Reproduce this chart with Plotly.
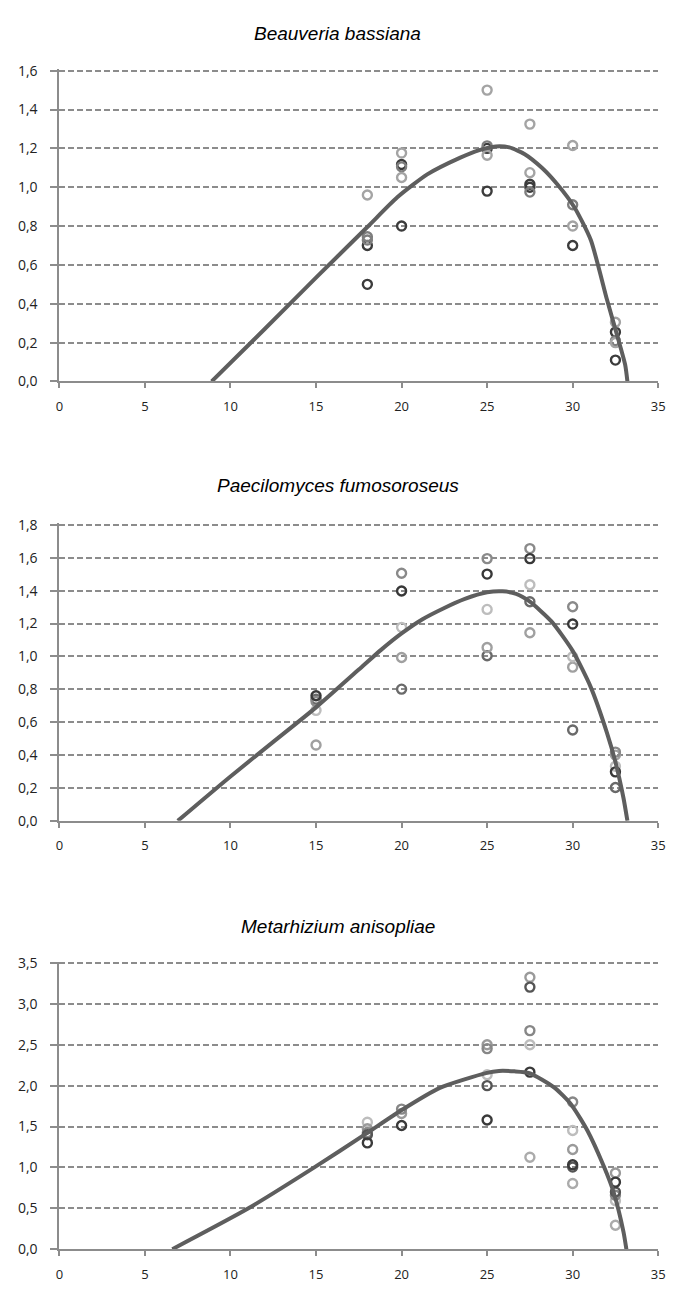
import plotly.graph_objects as go

# ---------------- data ----------------
titles = ["Beauveria bassiana", "Paecilomyces fumosoroseus", "Metarhizium anisopliae"]
y_max = [1.6, 1.8, 3.5]
y_step = [0.2, 0.2, 0.5]
x_ticks = [0, 5, 10, 15, 20, 25, 30, 35]

# Panel 1: Beauveria bassiana
bb_dark_x = [18, 18, 20, 20, 25, 25, 27.5, 27.5, 30, 32.5, 32.5]
bb_dark_y = [0.70, 0.50, 1.117, 0.80, 1.20, 0.98, 1.015, 1.00, 0.70, 0.254, 0.11]
bb_mid_x = [18, 18, 20, 25, 27.5, 30, 32.5]
bb_mid_y = [0.745, 0.728, 1.105, 1.213, 0.975, 0.91, 0.21]
bb_light_x = [18, 20, 20, 25, 25, 27.5, 27.5, 30, 30, 32.5, 32.5]
bb_light_y = [0.96, 1.176, 1.05, 1.50, 1.165, 1.325, 1.075, 1.215, 0.80, 0.305, 0.20]
bb_curve_x = [8.9, 12.0, 15.0, 18.0, 19.75, 21.5, 23.4, 24.5, 25.5, 26.3, 27.2, 28.2, 29.1, 30.1, 31.06, 32.0, 32.6, 33.07, 33.2]
bb_curve_y = [0.0, 0.27, 0.535, 0.795, 0.948, 1.066, 1.151, 1.19, 1.21, 1.205, 1.17, 1.10, 1.015, 0.897, 0.728, 0.423, 0.237, 0.085, 0.0]

# Panel 2: Paecilomyces fumosoroseus
pf_s1_x = [15, 20, 25, 27.5, 30, 32.5]
pf_s1_y = [0.761, 1.398, 1.501, 1.595, 1.197, 0.298]
pf_s2_x = [15, 20, 25, 27.5, 30, 32.5]
pf_s2_y = [0.726, 1.506, 1.595, 1.656, 1.302, 0.418]
pf_s3_x = [15, 20, 25, 27.5, 30, 32.5]
pf_s3_y = [0.672, 1.177, 1.286, 1.436, 0.998, 0.332]
pf_s4_x = [15, 20, 25, 27.5, 30, 32.5]
pf_s4_y = [0.461, 0.994, 1.054, 1.144, 0.935, 0.40]
pf_s5_x = [15, 20, 25, 27.5, 30, 32.5]
pf_s5_y = [0.74, 0.801, 1.004, 1.333, 0.553, 0.203]
pf_curve_x = [6.92, 10.0, 12.5, 15.0, 17.5, 18.8, 20.0, 21.2, 22.44, 23.7, 25.0, 25.9, 26.7, 27.5, 28.76, 30.0, 31.05, 32.0, 32.5, 32.97, 33.2]
pf_curve_y = [0.0, 0.27, 0.48, 0.69, 0.92, 1.04, 1.14, 1.225, 1.292, 1.35, 1.39, 1.396, 1.38, 1.333, 1.213, 1.034, 0.815, 0.537, 0.358, 0.139, 0.0]

# Panel 3: Metarhizium anisopliae
ma_s1_x = [18, 20, 25, 27.5, 30, 32.5]
ma_s1_y = [1.30, 1.513, 1.58, 2.165, 1.032, 0.82]
ma_s2_x = [18, 25, 27.5, 30, 32.5]
ma_s2_y = [1.40, 2.00, 3.205, 1.004, 0.70]
ma_s3_x = [18, 20, 25, 27.5, 30, 32.5]
ma_s3_y = [1.425, 1.713, 2.453, 2.673, 1.80, 0.66]
ma_s4_x = [18, 20, 25, 27.5, 30, 32.5]
ma_s4_y = [1.473, 1.66, 2.50, 3.325, 1.22, 0.932]
ma_s5_x = [18, 25, 27.5, 30, 32.5]
ma_s5_y = [1.553, 2.133, 2.50, 1.452, 0.592]
ma_s6_x = [27.5, 30, 32.5]
ma_s6_y = [1.125, 0.804, 0.293]
ma_curve_x = [6.6, 11.05, 14.9, 17.93, 19.94, 22.24, 24.93, 25.69, 26.6, 27.47, 28.95, 29.9, 30.86, 31.82, 32.4, 32.97, 33.14]
ma_curve_y = [0.0, 0.5, 1.0, 1.413, 1.693, 1.973, 2.153, 2.18, 2.175, 2.153, 1.973, 1.773, 1.452, 1.013, 0.692, 0.212, 0.0]

# ---------------- styling ----------------
W, H = 678, 1293
plot_px = [(61, 377.7), (521.7, 823.3), (966, 1257.7)]
title_px = [25, 483, 930]
x_left, x_right = 56.3, 665
GRID = "#8c8c8c"
AXIS = "#8c8c8c"
CURVE = "#5e5e5e"

panels = [
    ([(bb_dark_x, bb_dark_y, "#3c3c3c"), (bb_mid_x, bb_mid_y, "#7e7e7e"),
      (bb_light_x, bb_light_y, "#a4a4a4")], (bb_curve_x, bb_curve_y)),
    ([(pf_s5_x, pf_s5_y, "#6a6a6a"), (pf_s4_x, pf_s4_y, "#a0a0a0"),
      (pf_s3_x, pf_s3_y, "#bdbdbd"), (pf_s2_x, pf_s2_y, "#8a8a8a"),
      (pf_s1_x, pf_s1_y, "#383838")], (pf_curve_x, pf_curve_y)),
    ([(ma_s6_x, ma_s6_y, "#ababab"), (ma_s5_x, ma_s5_y, "#bdbdbd"),
      (ma_s4_x, ma_s4_y, "#9a9a9a"), (ma_s3_x, ma_s3_y, "#878787"),
      (ma_s2_x, ma_s2_y, "#555555"), (ma_s1_x, ma_s1_y, "#3a3a3a")], (ma_curve_x, ma_curve_y)),
]

fig = go.Figure()
for i, (series, curve) in enumerate(panels):
    n = "" if i == 0 else str(i + 1)
    xa, ya = "x" + n, "y" + n
    for sx, sy, col in series:
        fig.add_trace(go.Scatter(
            x=sx, y=sy, mode="markers", xaxis=xa, yaxis=ya, showlegend=False,
            marker=dict(symbol="circle-open", size=9, color=col, line=dict(width=2.4, color=col)),
        ))
    fig.add_trace(go.Scatter(
        x=curve[0], y=curve[1], mode="lines", xaxis=xa, yaxis=ya, showlegend=False,
        line=dict(color=CURVE, width=4, shape="spline", smoothing=0.6),
    ))
    top, bot = plot_px[i]
    ydom = [1 - bot / H, 1 - top / H]
    xdom = [x_left / W, x_right / W]
    nt = int(round(y_max[i] / y_step[i]))
    yt = [round(k * y_step[i], 2) for k in range(nt + 1)]
    fig.layout["xaxis" + n] = dict(
        domain=xdom, range=[0, 35], anchor=ya, tickvals=x_ticks,
        showgrid=False, zeroline=False, showline=True, linecolor=AXIS, linewidth=2,
        ticks="outside", ticklen=5, tickwidth=2, tickcolor=AXIS,
        ticklabelstandoff=7,
        tickfont=dict(family="Open Sans", size=13, color="#222"),
        fixedrange=True,
    )
    fig.layout["yaxis" + n] = dict(
        domain=ydom, range=[0, y_max[i] * 1.005], anchor=xa, tickvals=yt, tickformat=".1f",
        showgrid=True, gridcolor=GRID, gridwidth=2, griddash="6px,3px",
        zeroline=False, showline=True, linecolor=AXIS, linewidth=2,
        ticks="outside", ticklen=7, tickwidth=2, tickcolor=AXIS,
        ticklabelstandoff=10,
        tickfont=dict(family="Open Sans", size=14, color="#222"),
        fixedrange=True,
    )
    fig.add_annotation(
        text=titles[i], xref="paper", yref="paper", x=0.5, y=1 - title_px[i] / H,
        xanchor="center", yanchor="middle", showarrow=False,
        font=dict(family="Liberation Sans", size=19, color="#000", style="italic"),
    )

fig.update_layout(
    width=W, height=H, margin=dict(l=0, r=0, t=0, b=0),
    paper_bgcolor="white", plot_bgcolor="white", separators=",.",
)
fig.write_html("out.html")
